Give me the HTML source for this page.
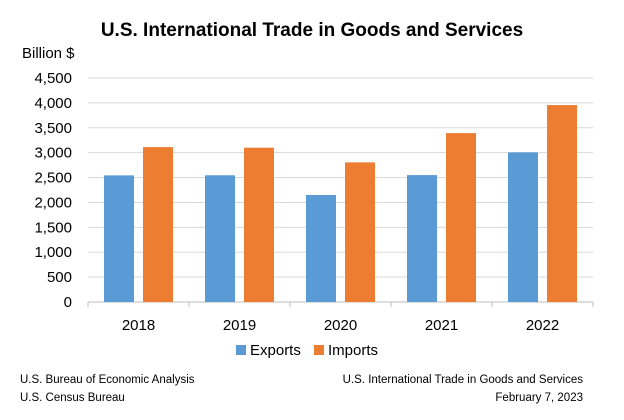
<!DOCTYPE html>
<html><head><meta charset="utf-8"><style>
body{margin:0;background:#fff;font-family:"Liberation Sans",sans-serif}
svg text{font-family:"Liberation Sans",sans-serif}
</style></head><body>
<svg id="c" width="624" height="415" viewBox="0 0 624 415">
<text x="312" y="36" text-anchor="middle" font-size="19" font-weight="bold" fill="#000">U.S. International Trade in Goods and Services</text>
<text x="22" y="58" font-size="15" fill="#000">Billion $</text>
<g id="grid"></g><g id="bars"></g><g id="xl"></g>
<g>
<rect x="236" y="345" width="10" height="10" fill="#5b9bd5"/>
<text x="250" y="355" font-size="15">Exports</text>
<rect x="314" y="345" width="10" height="10" fill="#ed7d31"/>
<text x="328" y="355" font-size="15">Imports</text>
</g>
<text x="20" y="383" font-size="11.5">U.S. Bureau of Economic Analysis</text>
<text x="20" y="401" font-size="11.5">U.S. Census Bureau</text>
<text x="583" y="383" font-size="11.5" text-anchor="end">U.S. International Trade in Goods and Services</text>
<text x="583" y="401" font-size="11.5" text-anchor="end">February 7, 2023</text>
</svg>
<script>
const categories=["2018","2019","2020","2021","2022"];
const exportsVals=[2544,2546,2150,2550,3006];
const importsVals=[3112,3100,2805,3393,3956];
const yTicks=[0,500,1000,1500,2000,2500,3000,3500,4000,4500];
const NS="http://www.w3.org/2000/svg";
const x0=88,x1=593,y0=302,yTop=78,yMax=4500;
const y=v=>y0-(v/yMax)*(y0-yTop);
const cw=(x1-x0)/categories.length;
function mk(t,a,p){const e=document.createElementNS(NS,t);for(const k in a)e.setAttribute(k,a[k]);p.appendChild(e);return e;}
const g=document.getElementById('grid');
yTicks.forEach(v=>{
 if(v>0){const l=mk('line',{x1:x0,x2:x1,y1:y(v),y2:y(v),stroke:'#d9d9d9','stroke-width':1},g);
 
 }
 const t=mk('text',{x:72,y:y(v)+5,'text-anchor':'end','font-size':15},g);t.textContent=v.toLocaleString('en-US');
 
 
});
const ax=mk('line',{x1:x0,x2:x1,y1:y0,y2:y0,stroke:'#bfbfbf'},g);


for(let i=0;i<=categories.length;i++){const tk=mk('line',{x1:x0+i*cw,x2:x0+i*cw,y1:y0,y2:y0+5,stroke:'#bfbfbf'},g);
 
 }
const b=document.getElementById('bars'),xl=document.getElementById('xl');
categories.forEach((c,i)=>{
 const cx=x0+i*cw+cw/2,bw=30,gap=9;
 const e=mk('rect',{x:cx-gap/2-bw,y:y(exportsVals[i]),width:bw,height:y0-y(exportsVals[i]),fill:'#5b9bd5'},b);
 
 
 const m=mk('rect',{x:cx+gap/2,y:y(importsVals[i]),width:bw,height:y0-y(importsVals[i]),fill:'#ed7d31'},b);
 
 
 const t=mk('text',{x:cx,y:330,'text-anchor':'middle','font-size':15},xl);t.textContent=c;
 
 
});
</script>
</body></html>
